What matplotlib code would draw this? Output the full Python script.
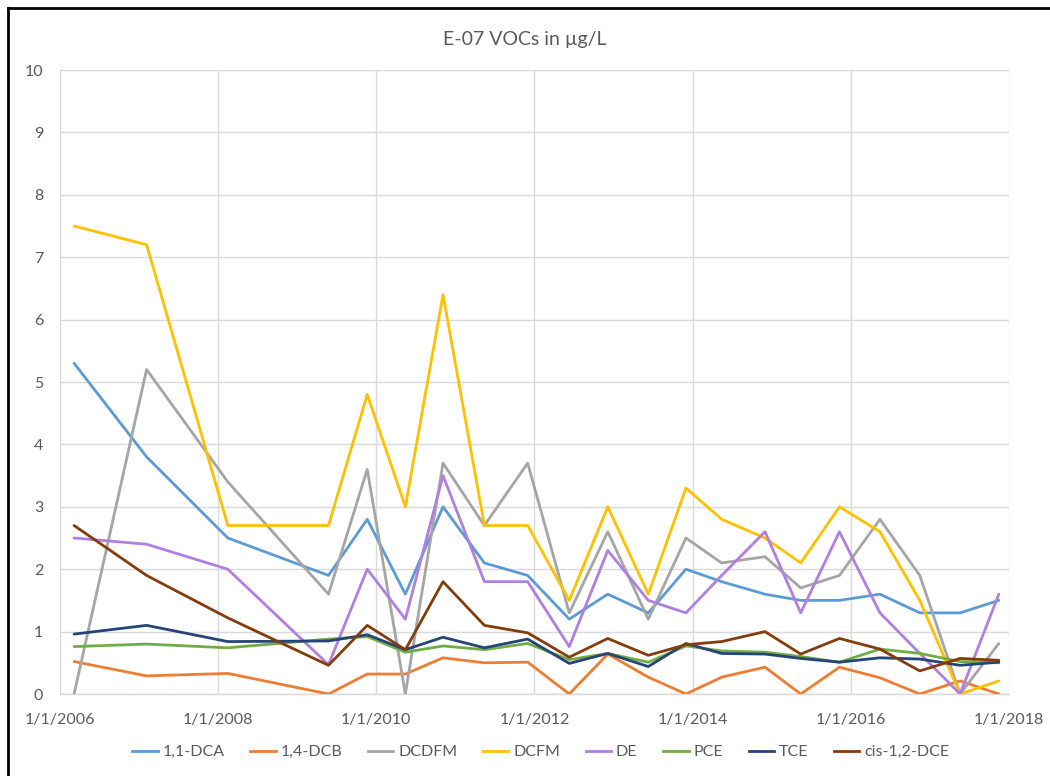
import matplotlib
matplotlib.use("Agg")
import matplotlib.pyplot as plt
import matplotlib.dates as mdates
import pandas as pd
from matplotlib.lines import Line2D

plt.rcParams['font.family'] = ['Lato', 'DejaVu Sans']

# Sampling dates
sample_dates = [
    "2006-03-07", "2007-02-05", "2008-02-15", "2009-05-25", "2009-11-20",
    "2010-05-15", "2010-11-05", "2011-05-15", "2011-12-01", "2012-06-10",
    "2012-12-05", "2013-06-10", "2013-12-01", "2014-05-15", "2014-12-01",
    "2015-05-15", "2015-11-10", "2016-05-15", "2016-11-15", "2017-05-20",
    "2017-11-15",
]

# Concentrations in µg/L
dca_11 = [5.3, 3.8, 2.5, 1.9, 2.8, 1.6, 3.0, 2.1, 1.9, 1.2, 1.6, 1.3, 2.0, 1.8,
          1.6, 1.5, 1.5, 1.6, 1.3, 1.3, 1.5]
dcb_14 = [0.52, 0.29, 0.33, 0.0, 0.32, 0.32, 0.58, 0.50, 0.51, 0.0, 0.64, 0.27,
          0.0, 0.27, 0.43, 0.0, 0.43, 0.26, 0.0, 0.21, 0.0]
dcdfm = [0.0, 5.2, 3.4, 1.6, 3.6, 0.0, 3.7, 2.7, 3.7, 1.3, 2.6, 1.2, 2.5, 2.1,
         2.2, 1.7, 1.9, 2.8, 1.9, 0.0, 0.81]
dcfm = [7.5, 7.2, 2.7, 2.7, 4.8, 3.0, 6.4, 2.7, 2.7, 1.5, 3.0, 1.6, 3.3, 2.8,
        2.5, 2.1, 3.0, 2.6, 1.5, 0.0, 0.21]
de = [2.5, 2.4, 2.0, 0.47, 2.0, 1.2, 3.5, 1.8, 1.8, 0.76, 2.3, 1.5, 1.3, 1.9,
      2.6, 1.3, 2.6, 1.3, 0.65, 0.0, 1.6]
pce = [0.76, 0.80, 0.74, 0.88, 0.92, 0.67, 0.77, 0.71, 0.81, 0.55, 0.65, 0.51,
       0.77, 0.69, 0.67, 0.60, 0.51, 0.72, 0.65, 0.52, 0.50]
tce = [0.96, 1.1, 0.84, 0.85, 0.95, 0.71, 0.91, 0.74, 0.88, 0.49, 0.65, 0.44,
       0.81, 0.65, 0.64, 0.57, 0.51, 0.58, 0.56, 0.46, 0.51]
cis_dce = [2.7, 1.9, 1.22, 0.46, 1.1, 0.71, 1.8, 1.1, 0.98, 0.59, 0.89, 0.62,
           0.79, 0.84, 1.0, 0.64, 0.89, 0.72, 0.37, 0.57, 0.54]

series_names = ["1,1-DCA", "1,4-DCB", "DCDFM", "DCFM", "DE", "PCE", "TCE",
                "cis-1,2-DCE"]
series_values = [dca_11, dcb_14, dcdfm, dcfm, de, pce, tce, cis_dce]
series_colors = ["#5B9BD5", "#ED7D31", "#A5A5A5", "#FFC000", "#B07FE0",
                 "#70AD47", "#264478", "#843C0C"]

x_ticks = ["2006-01-01", "2008-01-01", "2010-01-01", "2012-01-01",
           "2014-01-01", "2016-01-01", "2018-01-01"]

title = "E-07 VOCs in µg/L"
text_color = "#595959"
grid_color = "#D9D9D9"

dates = pd.to_datetime(sample_dates)
tick_dates = pd.to_datetime(x_ticks)

fig = plt.figure(figsize=(10.5, 7.76), dpi=100)
ax = fig.add_axes([60 / 1050, 1 - 694 / 776, (1009 - 60) / 1050, (694 - 70) / 776])

for name, vals, col in zip(series_names, series_values, series_colors):
    ax.plot(dates, vals, color=col, linewidth=2.0, label=name,
            solid_joinstyle="round", solid_capstyle="round", zorder=3)

ax.set_xlim(tick_dates[0], tick_dates[-1])
ax.set_ylim(0, 10)
ax.set_yticks(range(0, 11))
ax.set_xticks(tick_dates)
ax.set_xticklabels([f"{d.month}/{d.day}/{d.year}" for d in tick_dates])

ax.grid(True, color=grid_color, linewidth=1.0, zorder=0)
for side in ["top", "right", "left"]:
    ax.spines[side].set_visible(False)
ax.spines["bottom"].set_color(grid_color)
ax.spines["bottom"].set_linewidth(1.0)
ax.tick_params(axis="both", length=0, labelcolor=text_color, labelsize=11.5)
ax.tick_params(axis="x", pad=14)
ax.tick_params(axis="y", pad=12)

fig.text(0.5, 1 - 40 / 776, title, ha="center", va="center",
         fontsize=14, color=text_color)

handles = [Line2D([0], [0], color=c, linewidth=2.0) for c in series_colors]
fig.legend(handles, series_names, loc="center", bbox_to_anchor=(0.515, 1 - 752 / 776),
           ncol=8, frameon=False, fontsize=11.5, handlelength=1.6,
           handletextpad=0.3, columnspacing=1.6, labelcolor=text_color)

# Chart frame (left and top edges)
fig.add_artist(Line2D([8 / 1050, 8 / 1050], [0, 1 - 8 / 776], color="black",
                      linewidth=2.0, transform=fig.transFigure))
fig.add_artist(Line2D([8 / 1050, 1], [1 - 8 / 776, 1 - 8 / 776], color="black",
                      linewidth=2.0, transform=fig.transFigure))

fig.savefig("out.png", dpi=100)
